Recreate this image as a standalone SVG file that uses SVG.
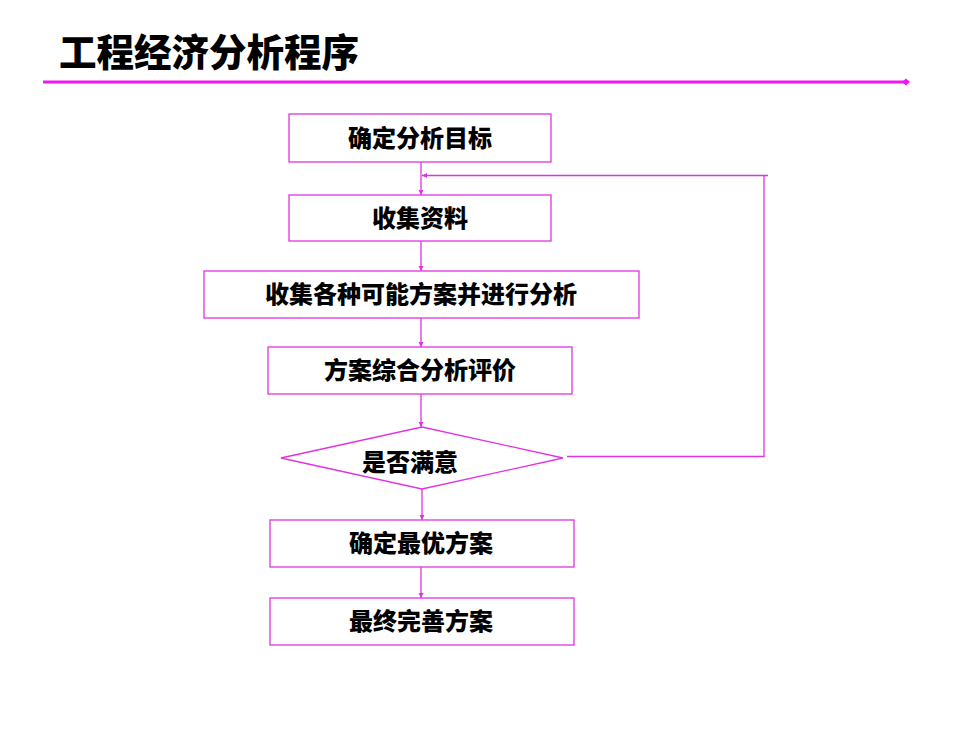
<svg xmlns="http://www.w3.org/2000/svg" width="980" height="735" viewBox="0 0 980 735">
<style>
.box{fill:#fff;stroke:#e033e0;stroke-width:1.3}
.lbl{font-family:"Noto Sans CJK SC","Noto Sans",sans-serif;font-weight:900;font-size:24px;fill:#000;text-anchor:middle;dominant-baseline:central}
.con{stroke:#e033e0;stroke-width:1.3;fill:none}
</style>
<defs>
<marker id="ah" markerWidth="6" markerHeight="6" refX="5" refY="3" orient="auto" markerUnits="userSpaceOnUse">
<path d="M0,0.5 L5,3 L0,5.5 Z" fill="#e033e0"/>
</marker>
<marker id="dm" markerWidth="10" markerHeight="10" refX="5" refY="5" orient="auto" markerUnits="userSpaceOnUse">
<path d="M1,5 L5,1.5 L9,5 L5,8.5 Z" fill="#f018f0"/>
</marker>
</defs>
<rect width="980" height="735" fill="#fff"/>
<g id="title">
<text x="59" y="49" style="font-family:'Noto Sans CJK SC',sans-serif;font-weight:900;font-size:37.5px;fill:#000;dominant-baseline:central">工程经济分析程序</text>
<line x1="43" y1="82" x2="906" y2="82" stroke="#f018f0" stroke-width="3" marker-end="url(#dm)"/>
</g>
<g id="connectors">
<line class="con" x1="421" y1="162" x2="421" y2="195" marker-end="url(#ah)"/>
<line class="con" x1="421" y1="241" x2="421" y2="271" marker-end="url(#ah)"/>
<line class="con" x1="421" y1="318" x2="421" y2="347" marker-end="url(#ah)"/>
<line class="con" x1="421" y1="394" x2="421" y2="427" marker-end="url(#ah)"/>
<line class="con" x1="422" y1="489" x2="422" y2="520" marker-end="url(#ah)"/>
<line class="con" x1="421" y1="567" x2="421" y2="598" marker-end="url(#ah)"/>
<polyline class="con" points="567,456.5 764,456.5 764,175.5"/>
<line class="con" x1="768" y1="175.5" x2="422" y2="175.5" marker-end="url(#ah)"/>
</g>
<g id="n1"><rect class="box" x="289" y="114" width="262" height="48"/><text class="lbl" x="420" y="136">确定分析目标</text></g>
<g id="n2"><rect class="box" x="289" y="195" width="262" height="46"/><text class="lbl" x="420" y="216">收集资料</text></g>
<g id="n3"><rect class="box" x="204" y="271" width="435" height="47"/><text class="lbl" x="421" y="292.5">收集各种可能方案并进行分析</text></g>
<g id="n4"><rect class="box" x="268" y="347" width="304" height="47"/><text class="lbl" x="420" y="368.5">方案综合分析评价</text></g>
<g id="n5"><polygon class="box" points="281,458 422,427 563,458 422,489"/><text class="lbl" x="410" y="460">是否满意</text></g>
<g id="n6"><rect class="box" x="270" y="520" width="304" height="47"/><text class="lbl" x="421" y="541.5">确定最优方案</text></g>
<g id="n7"><rect class="box" x="270" y="598" width="304" height="47"/><text class="lbl" x="421" y="619.5">最终完善方案</text></g>
</svg>
